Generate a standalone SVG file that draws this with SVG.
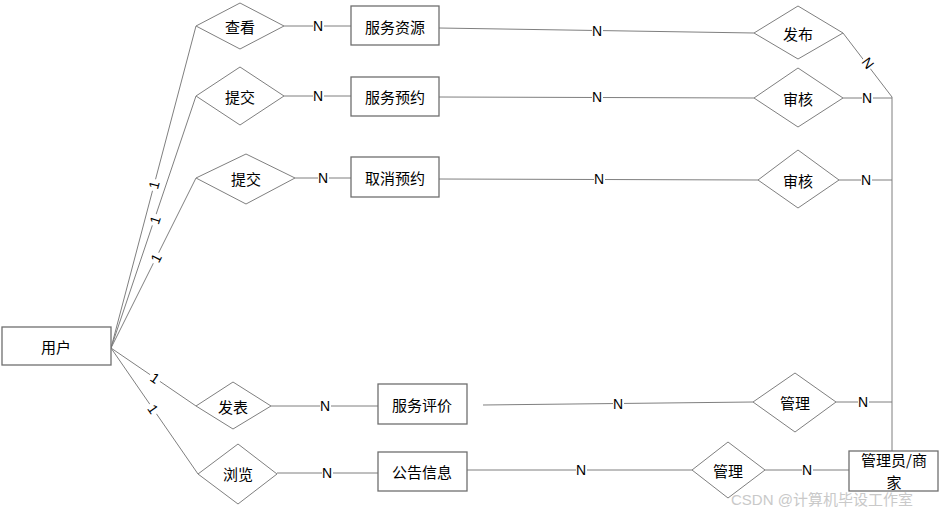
<svg xmlns="http://www.w3.org/2000/svg" width="942" height="507" viewBox="0 0 942 507">
<style>
.ln{stroke:#7f7f7f;stroke-width:1;fill:none}
.dm{fill:#fff;stroke:#7f7f7f;stroke-width:1}
.rc{fill:#fff;stroke:#6f6f6f;stroke-width:1.3}
.t{font-family:"Noto Sans CJK SC","Liberation Sans",sans-serif;font-size:15px;fill:#000;text-anchor:middle;dominant-baseline:central}
.n{font-family:"Liberation Sans",sans-serif;font-size:14px;fill:#000;text-anchor:middle;dominant-baseline:central}
.bg{fill:#fff}
.wm{font-family:"Liberation Sans","Noto Sans CJK SC",sans-serif;font-size:15px;fill:#c9c9c9}
</style>
<rect width="942" height="507" fill="#fff"/>
<g id="connectors">
<line class="ln" x1="111" y1="348" x2="196" y2="26"/>
<line class="ln" x1="111" y1="348" x2="196" y2="96"/>
<line class="ln" x1="111" y1="348" x2="196" y2="178"/>
<line class="ln" x1="111" y1="348" x2="196" y2="406"/>
<line class="ln" x1="111" y1="348" x2="198" y2="474"/>
<line class="ln" x1="284" y1="26" x2="351" y2="26"/>
<line class="ln" x1="284" y1="96" x2="351" y2="96"/>
<line class="ln" x1="295" y1="178" x2="351" y2="178"/>
<line class="ln" x1="271" y1="406" x2="378" y2="406"/>
<line class="ln" x1="277" y1="473" x2="378" y2="473"/>
<line class="ln" x1="439" y1="28" x2="754" y2="33"/>
<line class="ln" x1="439" y1="97" x2="754" y2="98"/>
<line class="ln" x1="439" y1="179" x2="758" y2="180"/>
<line class="ln" x1="483" y1="405" x2="753" y2="402"/>
<line class="ln" x1="467" y1="470" x2="692" y2="470"/>
<line class="ln" x1="765" y1="470" x2="849" y2="470"/>
<line class="ln" x1="843" y1="33" x2="892" y2="97"/>
<line class="ln" x1="843" y1="98" x2="892" y2="98"/>
<line class="ln" x1="839" y1="180" x2="892" y2="180"/>
<line class="ln" x1="836" y1="402" x2="892" y2="402"/>
<line class="ln" x1="892" y1="97" x2="892" y2="451"/>
<g>
<rect class="bg" x="148" y="180" width="12" height="10" transform="rotate(-75 154 185)"/>
<text class="n" x="154" y="185" transform="rotate(-75 154 185)">1</text>
<rect class="bg" x="149" y="215" width="12" height="10" transform="rotate(-71 155 220)"/>
<text class="n" x="155" y="220" transform="rotate(-71 155 220)">1</text>
<rect class="bg" x="150" y="253" width="12" height="10" transform="rotate(-63 156 258)"/>
<text class="n" x="156" y="258" transform="rotate(-63 156 258)">1</text>
<rect class="bg" x="149" y="373" width="12" height="10" transform="rotate(34 155 378)"/>
<text class="n" x="155" y="378" transform="rotate(34 155 378)">1</text>
<rect class="bg" x="147" y="404" width="12" height="10" transform="rotate(55 153 409)"/>
<text class="n" x="153" y="409" transform="rotate(55 153 409)">1</text>
<rect class="bg" x="862" y="57" width="12" height="12" transform="rotate(53 868 63)"/>
<text class="n" x="868" y="63" transform="rotate(53 868 63)">N</text>
</g>
<g>
<rect class="bg" x="313" y="19" width="11" height="14"/><text class="n" x="318" y="26">N</text>
<rect class="bg" x="313" y="89" width="11" height="14"/><text class="n" x="318" y="96">N</text>
<rect class="bg" x="318" y="171" width="11" height="14"/><text class="n" x="323" y="178">N</text>
<rect class="bg" x="320" y="399" width="11" height="14"/><text class="n" x="325" y="406">N</text>
<rect class="bg" x="322" y="466" width="11" height="14"/><text class="n" x="327" y="473">N</text>
<rect class="bg" x="592" y="24" width="11" height="14"/><text class="n" x="597" y="31">N</text>
<rect class="bg" x="592" y="90" width="11" height="14"/><text class="n" x="597" y="97">N</text>
<rect class="bg" x="594" y="172" width="11" height="14"/><text class="n" x="599" y="179">N</text>
<rect class="bg" x="613" y="397" width="11" height="14"/><text class="n" x="618" y="404">N</text>
<rect class="bg" x="576" y="463" width="11" height="14"/><text class="n" x="581" y="470">N</text>
<rect class="bg" x="802" y="463" width="11" height="14"/><text class="n" x="807" y="470">N</text>
<rect class="bg" x="862" y="91" width="11" height="14"/><text class="n" x="867" y="98">N</text>
<rect class="bg" x="861" y="173" width="11" height="14"/><text class="n" x="866" y="180">N</text>
<rect class="bg" x="858" y="395" width="11" height="14"/><text class="n" x="863" y="402">N</text>
</g>
</g>
<g id="user"><rect class="rc" x="2" y="327" width="109" height="38"/><text class="t" x="56" y="346">用户</text></g>
<g id="rel-chakan"><polygon class="dm" points="196,26 240,3 284,26 240,49"/><text class="t" x="240" y="26">查看</text></g>
<g id="rel-tijiao1"><polygon class="dm" points="196,96 240,67 284,96 240,125"/><text class="t" x="240" y="96">提交</text></g>
<g id="rel-tijiao2"><polygon class="dm" points="196,178 246,154 295,178 246,204"/><text class="t" x="246" y="178">提交</text></g>
<g id="rel-fabiao"><polygon class="dm" points="196,406 233,382 271,406 233,429"/><text class="t" x="233" y="406">发表</text></g>
<g id="rel-liulan"><polygon class="dm" points="198,474 238,444 277,474 238,504"/><text class="t" x="238" y="473">浏览</text></g>
<g id="ent-fuwuziyuan"><rect class="rc" x="351" y="6" width="88" height="39"/><text class="t" x="395" y="26">服务资源</text></g>
<g id="ent-fuwuyuyue"><rect class="rc" x="351" y="77" width="88" height="39"/><text class="t" x="395" y="96">服务预约</text></g>
<g id="ent-quxiaoyuyue"><rect class="rc" x="351" y="157" width="88" height="40"/><text class="t" x="395" y="177">取消预约</text></g>
<g id="ent-fuwupingjia"><rect class="rc" x="378" y="384" width="89" height="40"/><text class="t" x="422" y="404">服务评价</text></g>
<g id="ent-gonggao"><rect class="rc" x="378" y="452" width="89" height="39"/><text class="t" x="422" y="471">公告信息</text></g>
<g id="rel-fabu"><polygon class="dm" points="754,33 798,6 843,33 798,59"/><text class="t" x="798" y="33">发布</text></g>
<g id="rel-shenhe1"><polygon class="dm" points="754,98 798,68 843,98 798,127"/><text class="t" x="798" y="98">审核</text></g>
<g id="rel-shenhe2"><polygon class="dm" points="758,180 798,150 839,180 798,208"/><text class="t" x="798" y="180">审核</text></g>
<g id="rel-guanli1"><polygon class="dm" points="753,402 795,373 836,402 795,432"/><text class="t" x="795" y="402">管理</text></g>
<g id="rel-guanli2"><polygon class="dm" points="692,470 728,442 765,470 728,498"/><text class="t" x="728" y="470">管理</text></g>
<g id="ent-admin"><rect class="rc" x="849" y="451" width="89" height="40"/><text class="t" x="894" y="459">管理员/商</text><text class="t" x="894" y="481">家</text></g>
<text class="wm" x="731" y="505">CSDN @计算机毕设工作室</text>
</svg>
